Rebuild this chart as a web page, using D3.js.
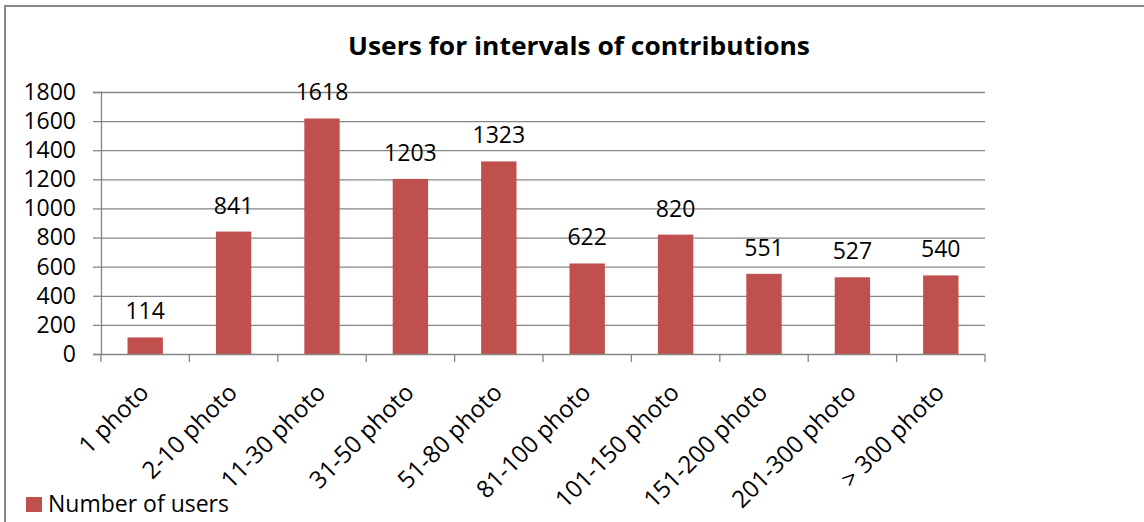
<!DOCTYPE html>
<html>
<head>
<meta charset="utf-8">
<script src="https://cdn.jsdelivr.net/npm/d3@7"></script>
<style>
  html, body { margin: 0; padding: 0; background: #fff; }
  svg { display: block; }
  text { font-family: "Open Sans", "DejaVu Sans", sans-serif; fill: #000; }
</style>
</head>
<body>
<svg id="chart" width="1144" height="522"></svg>
<script>
// Contribution intervals and the number of users in each
const categories = ["1 photo", "2-10 photo", "11-30 photo", "31-50 photo", "51-80 photo",
                    "81-100 photo", "101-150 photo", "151-200 photo", "201-300 photo", "> 300 photo"];
const users = [114, 841, 1618, 1203, 1323, 622, 820, 551, 527, 540];
const yTicks = [0, 200, 400, 600, 800, 1000, 1200, 1400, 1600, 1800];
const seriesName = "Number of users";
const chartTitle = "Users for intervals of contributions";

const svg = d3.select("#chart");
const W = 1144, H = 522;
const plot = { left: 101, right: 985, top: 92, bottom: 354 };
const barColor = "#C0504D";
const axisColor = "#868686";

// outer frame
svg.append("rect")
  .attr("x", 5).attr("y", 6)
  .attr("width", W + 10).attr("height", H + 10)
  .attr("fill", "none").attr("stroke", "#888").attr("stroke-width", 2);

const x = d3.scaleBand().domain(categories).range([plot.left, plot.right]).paddingInner(0.6).paddingOuter(0.3);
const y = d3.scaleLinear().domain([0, 1800]).range([plot.bottom, plot.top]);

// gridlines
svg.append("g")
  .selectAll("line").data(yTicks.slice(1)).join("line")
  .attr("x1", plot.left).attr("x2", plot.right)
  .attr("y1", d => y(d) + 0.5).attr("y2", d => y(d) + 0.5)
  .attr("stroke", axisColor).attr("stroke-width", 1.3);

// y axis
const yAxis = svg.append("g")
  .attr("transform", `translate(${plot.left},0)`)
  .call(d3.axisLeft(y).tickValues(yTicks).tickSize(8).tickPadding(17).tickFormat(d3.format("d")));
yAxis.attr("font-size", null).attr("font-family", null);
yAxis.select(".domain").attr("stroke", axisColor).attr("stroke-width", 1.3);
yAxis.selectAll(".tick line").attr("stroke", axisColor).attr("stroke-width", 1.3);
yAxis.selectAll("text").style("font-size", "23px").attr("fill", "#000");

// bars
svg.append("g")
  .selectAll("rect").data(users).join("rect")
  .attr("x", (d, i) => x(categories[i]))
  .attr("y", d => y(d))
  .attr("width", x.bandwidth())
  .attr("height", d => y(0) - y(d))
  .attr("fill", barColor);

// value labels
svg.append("g")
  .selectAll("text").data(users).join("text")
  .attr("x", (d, i) => x(categories[i]) + x.bandwidth() / 2)
  .attr("y", d => y(d) - 18)
  .attr("text-anchor", "middle")
  .style("font-size", "23px")
  .text(d => d);

// x axis baseline and category ticks
const step = (plot.right - plot.left) / categories.length;
svg.append("line")
  .attr("x1", plot.left).attr("x2", plot.right)
  .attr("y1", plot.bottom + 0.5).attr("y2", plot.bottom + 0.5)
  .attr("stroke", axisColor).attr("stroke-width", 1.3);
svg.append("g")
  .selectAll("line").data(d3.range(categories.length + 1)).join("line")
  .attr("x1", i => plot.left + i * step).attr("x2", i => plot.left + i * step)
  .attr("y1", plot.bottom).attr("y2", plot.bottom + 8)
  .attr("stroke", axisColor).attr("stroke-width", 1.3);

// rotated category labels
svg.append("g")
  .selectAll("text").data(categories).join("text")
  .attr("transform", d => `translate(${x(d) + x.bandwidth() / 2 + 5},${plot.bottom + 40}) rotate(-45)`)
  .attr("text-anchor", "end")
  .style("font-size", "24px")
  .text(d => d);

// title
svg.append("text")
  .attr("x", 579).attr("y", 55)
  .attr("text-anchor", "middle")
  .attr("textLength", 462).attr("lengthAdjust", "spacingAndGlyphs")
  .style("font-size", "25px").style("font-weight", "bold")
  .text(chartTitle);

// legend
svg.append("rect").attr("x", 26).attr("y", 497).attr("width", 16).attr("height", 15).attr("fill", barColor);
svg.append("text").attr("x", 48).attr("y", 512).style("font-size", "23px").text(seriesName);
</script>
</body>
</html>
